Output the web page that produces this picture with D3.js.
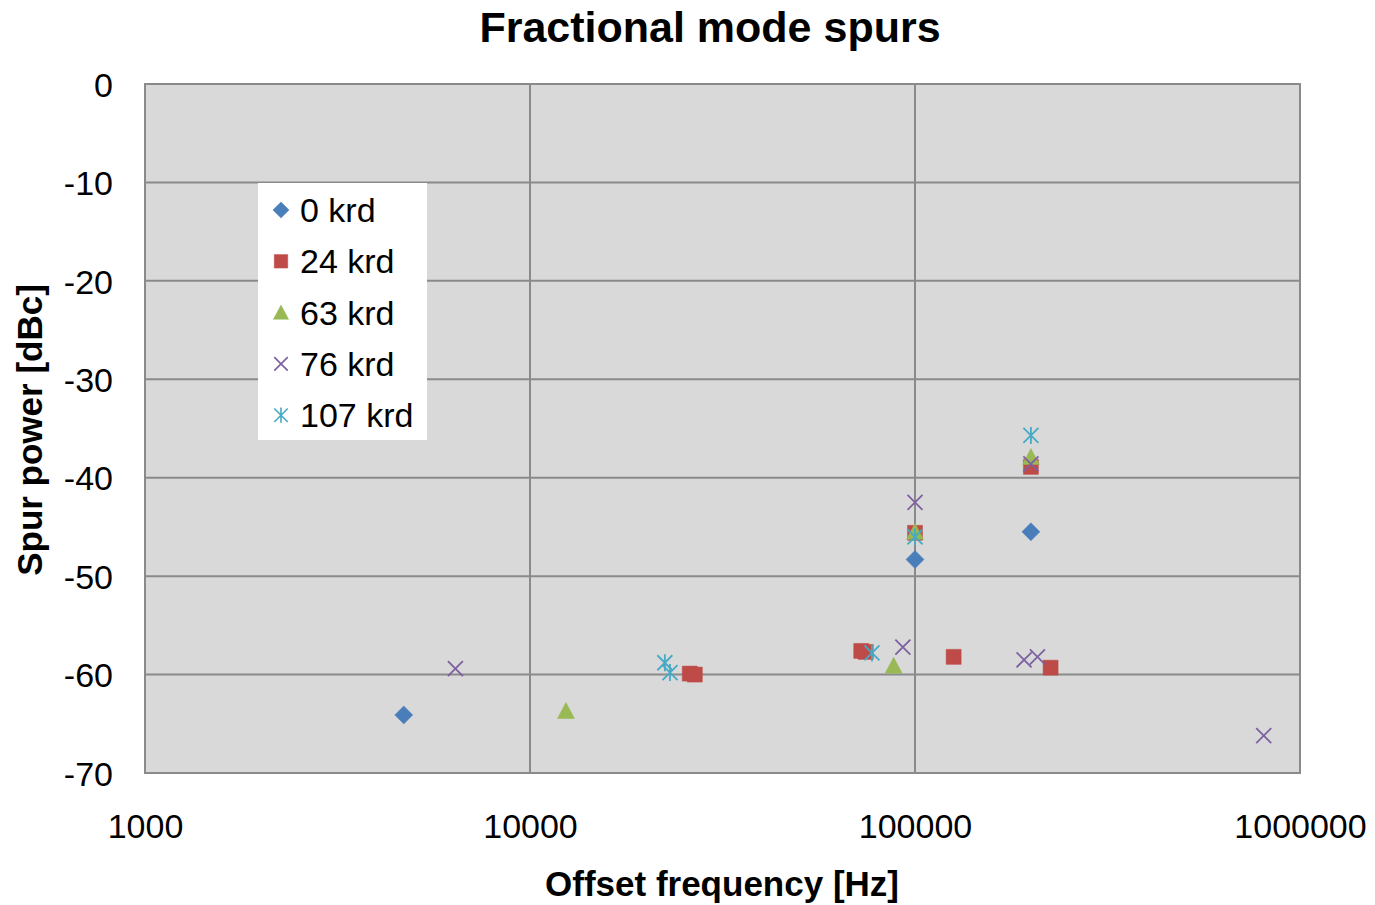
<!DOCTYPE html>
<html>
<head>
<meta charset="utf-8">
<script src="https://cdn.jsdelivr.net/npm/d3@7"></script>
<style>
  body { margin: 0; background: #fff; }
  svg { display: block; font-family: "Liberation Sans", Arial, sans-serif; }
</style>
</head>
<body>
<svg id="chart" width="1375" height="905"></svg>
<script>
// [offset frequency Hz, spur power dBc]
const krd0 = [[4700, -64.1], [100000, -48.3], [200000, -45.5]];
const krd24 = [[26000, -59.9], [26800, -60.0], [72500, -57.6], [74500, -57.7],
  [100000, -45.6], [126000, -58.2], [200000, -38.9], [225000, -59.3]];
const krd63 = [[12400, -63.7], [88000, -59.1], [100000, -45.5], [200000, -37.9]];
const krd76 = [[6400, -59.4], [93000, -57.2], [100000, -42.5], [200000, -38.6],
  [192000, -58.5], [208000, -58.2], [805000, -66.2]];
const krd107 = [[22400, -58.8], [23100, -59.8], [77300, -57.8], [100000, -46.0], [200000, -35.7]];

const seriesNames = ["0 krd", "24 krd", "63 krd", "76 krd", "107 krd"];
const xTicks = [1000, 10000, 100000, 1000000];
const yTicks = [0, -10, -20, -30, -40, -50, -60, -70];

const series = [
  { name: seriesNames[0], data: krd0, color: "#4a7ebb", shape: "diamond" },
  { name: seriesNames[1], data: krd24, color: "#be4b48", shape: "square" },
  { name: seriesNames[2], data: krd63, color: "#98b954", shape: "triangle" },
  { name: seriesNames[3], data: krd76, color: "#7d60a0", shape: "x" },
  { name: seriesNames[4], data: krd107, color: "#46aac5", shape: "star" },
];

const MARGIN = { LEFT: 145, RIGHT: 75, TOP: 84, BOTTOM: 132 };
const width = 1375, height = 905;
const svg = d3.select("#chart");

const x = d3.scaleLog().domain([1000, 1000000]).range([MARGIN.LEFT, width - MARGIN.RIGHT]);
const y = d3.scaleLinear().domain([-70, 0]).range([height - MARGIN.BOTTOM, MARGIN.TOP]);

const gridColor = "#8a8a8a";

// plot background
svg.append("rect")
  .attr("x", x.range()[0]).attr("y", y.range()[1])
  .attr("width", x.range()[1] - x.range()[0])
  .attr("height", y.range()[0] - y.range()[1])
  .attr("fill", "#d9d9d9");

// grid
const grid = svg.append("g").attr("stroke", gridColor).attr("stroke-width", 2);
grid.selectAll("line.h").data(yTicks).join("line")
  .attr("class", "h")
  .attr("x1", x.range()[0]).attr("x2", x.range()[1])
  .attr("y1", (d) => y(d)).attr("y2", (d) => y(d));
grid.selectAll("line.v").data(xTicks).join("line")
  .attr("class", "v")
  .attr("x1", (d) => x(d)).attr("x2", (d) => x(d))
  .attr("y1", y.range()[0]).attr("y2", y.range()[1]);

// axes labels only
const xAxis = svg.append("g")
  .attr("transform", `translate(0,${y.range()[0]})`)
  .call(d3.axisBottom(x).tickValues(xTicks).tickFormat(d3.format("d")).tickSize(0).tickPadding(41));
const yAxis = svg.append("g")
  .attr("transform", `translate(${x.range()[0]},0)`)
  .call(d3.axisLeft(y).tickValues(yTicks).tickFormat((d) => d).tickSize(0).tickPadding(32));
[xAxis, yAxis].forEach((a) => {
  a.select(".domain").remove();
  a.selectAll("text")
    .attr("font-family", "\"Liberation Sans\", Arial, sans-serif")
    .attr("font-size", 34)
    .attr("fill", "#000");
});
yAxis.selectAll("text").attr("dy", "0.36em");

// markers
const S = 15;
function markerPath(shape, s) {
  const h = s / 2;
  switch (shape) {
    case "diamond": return `M0 ${-h - 1.5} L${h + 1.5} 0 L0 ${h + 1.5} L${-h - 1.5} 0 Z`;
    case "square": return `M${-h} ${-h} H${h} V${h} H${-h} Z`;
    case "triangle": return `M0 ${-h - 1} L${h + 1} ${h} L${-h - 1} ${h} Z`;
    case "x": return `M${-h} ${-h} L${h} ${h} M${-h} ${h} L${h} ${-h}`;
    case "star": return `M${-h} ${-h} L${h} ${h} M${-h} ${h} L${h} ${-h} M0 ${-h - 1} V${h + 1}`;
  }
}
function drawMarker(sel, d) {
  const filled = d.shape !== "x" && d.shape !== "star";
  sel.append("path")
    .attr("d", markerPath(d.shape, S))
    .attr("fill", filled ? d.color : "none")
    .attr("stroke", d.color)
    .attr("stroke-width", filled ? 0.5 : 1.8);
}

const gPoints = svg.append("g");
series.forEach((s) => {
  gPoints.append("g").selectAll("g").data(s.data).join("g")
    .attr("transform", (d) => `translate(${x(d[0])},${y(d[1])})`)
    .each(function () { drawMarker(d3.select(this), s); });
});

// plot border
svg.append("rect")
  .attr("x", x.range()[0]).attr("y", y.range()[1])
  .attr("width", x.range()[1] - x.range()[0])
  .attr("height", y.range()[0] - y.range()[1])
  .attr("fill", "none").attr("stroke", gridColor).attr("stroke-width", 2);

// legend
const legend = svg.append("g").attr("transform", "translate(258,183)");
legend.append("rect").attr("width", 169).attr("height", 257).attr("fill", "#fff");
const items = legend.selectAll("g").data(series).join("g")
  .attr("transform", (d, i) => `translate(23,${27 + i * 51.3})`);
items.each(function (d) {
  const g = d3.select(this).append("g").attr("transform", "scale(0.9)");
  drawMarker(g, d);
});
items.append("text")
  .attr("x", 19).attr("y", 12)
  .attr("font-size", 34)
  .text((d) => d.name);

// titles
svg.append("text")
  .attr("x", 710).attr("y", 42)
  .attr("text-anchor", "middle")
  .attr("font-size", 43).attr("font-weight", "bold")
  .text("Fractional mode spurs");
svg.append("text")
  .attr("x", 722).attr("y", 896)
  .attr("text-anchor", "middle")
  .attr("font-size", 35).attr("font-weight", "bold")
  .text("Offset frequency [Hz]");
svg.append("text")
  .attr("transform", "translate(42,430) rotate(-90)")
  .attr("text-anchor", "middle")
  .attr("font-size", 35).attr("font-weight", "bold")
  .text("Spur power [dBc]");
</script>
</body>
</html>
